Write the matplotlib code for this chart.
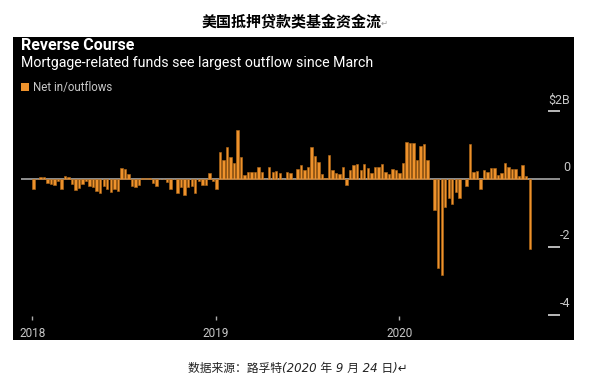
#!/usr/bin/env python3
'''
Weekly net flows of US mortgage-related funds
'''
import pandas as pd
import matplotlib
matplotlib.use('Agg')
import matplotlib.pyplot as plt
from matplotlib.patches import Rectangle

# weekly net in/outflows, $ billions, starting first week of 2018
flows = [
    -0.30, 0.01, 0.07, 0.07, -0.11, -0.16, -0.18, -0.06, -0.30, 0.08,
    0.05, -0.15, -0.33, -0.26, -0.16, -0.05, -0.20, -0.25, -0.35, -0.42,
    -0.20, -0.30, -0.37, -0.30, -0.35, 0.32, 0.29, 0.14, -0.20, -0.25,
    -0.18, 0.02, 0.03, 0.03, -0.13, -0.20, 0.00, 0.01, -0.09, -0.30,
    0.00, -0.42, -0.25, -0.47, -0.23, -0.21, -0.42, -0.06, -0.18, -0.18,
    0.17, -0.05, -0.30, 0.78, 0.57, 0.93, 0.64, 0.46, 1.43, 0.64,
    0.12, 0.21, 0.21, 0.19, 0.34, 0.21, 0.01, 0.34, 0.19, 0.24,
    0.17, 0.00, 0.21, 0.17, 0.00, 0.30, 0.41, 0.25, 0.34, 0.93,
    0.67, 0.50, 0.14, 0.03, 0.69, 0.25, 0.17, 0.14, 0.34, -0.18,
    0.27, 0.41, 0.43, 0.27, 0.43, 0.32, 0.17, 0.34, 0.34, 0.43,
    0.19, 0.14, 0.30, 0.25, 0.17, 0.48, 1.09, 1.06, 1.05, 0.55,
    0.98, 1.02, 0.57, 0.00, -0.91, -2.61, -2.83, -0.83, -0.55, -0.75,
    -0.39, -0.55, 0.00, -0.20, 1.02, 0.21, 0.24, -0.30, 0.25, 0.21,
    0.32, 0.32, 0.12, 0.17, 0.48, 0.34, 0.29, 0.29, 0.10, 0.41,
    0.10, -2.06,
]
weeks = pd.date_range('2018-01-03', periods=len(flows), freq='W-WED')

y_ticks = [2, -2, -4]
y_labels = [r'\$2B', '-2', '-4']
zero_label = '0'
year_ticks = pd.to_datetime(['2018-01-01', '2019-01-01', '2020-01-01'])
year_labels = ['2018', '2019', '2020']

title_cn = '美国抵押贷款类基金资金流'
title = 'Reverse Course'
subtitle = 'Mortgage-related funds see largest outflow since March'
legend_label = 'Net in/outflows'
source = '数据来源：路孚特(2020 年 9 月 24 日)'

ORANGE = '#EE922C'
GREY = '#C8C8C8'
W, H = 601, 385


def fx(px):
    return px / W


def fy(py):
    return 1 - py / H


def main():
    plt.rcParams['font.family'] = ['Roboto', 'DejaVu Sans']
    fig = plt.figure(figsize=(W / 100, H / 100), dpi=100)
    fig.patch.set_facecolor('white')

    # black panel, kept under the axes
    fig.patches.append(Rectangle((fx(13), fy(340)), fx(574) - fx(13), fy(37) - fy(340),
                                 transform=fig.transFigure, facecolor='black',
                                 edgecolor='none', zorder=-1))

    cjk = ['Noto Sans CJK SC', 'DejaVu Sans']
    fig.text(fx(292), fy(22), title_cn, family=cjk, fontsize=10.8, fontweight='bold',
             ha='center', va='center', color='black')
    fig.text(fx(381), fy(23), '↵', family=['DejaVu Sans'], fontsize=6, color='#999999',
             ha='left', va='center')
    fig.text(fx(21), fy(46), title, fontsize=11.5, fontweight='bold', color='white',
             ha='left', va='center')
    fig.text(fx(21), fy(63), subtitle, fontsize=10.2, color='white',
             ha='left', va='center')
    fig.patches.append(Rectangle((fx(21), fy(91)), fx(29) - fx(21), fy(83) - fy(91),
                                 transform=fig.transFigure, facecolor=ORANGE,
                                 edgecolor='none'))
    fig.text(fx(33), fy(87), legend_label, fontsize=8.3, color=GREY,
             ha='left', va='center')
    # latin part italic via DejaVu, Chinese falls back to Noto CJK
    fig.text(fx(298), fy(368), source + '↵', family=['DejaVu Sans', 'Noto Sans CJK SC'],
             fontsize=8.5, style='italic', color='#222222', ha='center', va='center')

    ax = fig.add_axes([fx(21), fy(320), fx(560) - fx(21), fy(95) - fy(320)])
    ax.set_zorder(1)
    ax.set_facecolor('black')
    for s in ax.spines.values():
        s.set_visible(False)

    ax.axhline(0, color='#9A9A9A', lw=1.3, zorder=1)
    ax.bar(weeks, flows, width=4.8, color=ORANGE, edgecolor='#B56A17',
           linewidth=0.4, zorder=2)

    ax.set_xlim(weeks[0] - pd.Timedelta(weeks=3.5), weeks[-1] + pd.Timedelta(weeks=8.6))
    ax.set_ylim(-4.15, 2.47)

    ax.set_xticks(year_ticks)
    ax.set_xticklabels(year_labels)
    ax.tick_params(axis='x', direction='in', length=3, width=1, color='#AAAAAA',
                   labelcolor=GREY, labelsize=8.5, pad=5)
    ax.set_yticks([])

    ytr = ax.get_yaxis_transform()
    ax.hlines(y_ticks, 1 - 12 / 539, 1, transform=ytr, color=GREY, lw=1.3,
              clip_on=False)
    for v, lab in zip(y_ticks + [0], y_labels + [zero_label]):
        ax.annotate(lab, xy=(1, v), xycoords=ytr, xytext=(10, 11),
                    textcoords='offset pixels', ha='right', va='center',
                    fontsize=9, color=GREY, annotation_clip=False)

    fig.savefig('out.png', dpi=100, facecolor=fig.get_facecolor())


if __name__ == '__main__':
    main()
